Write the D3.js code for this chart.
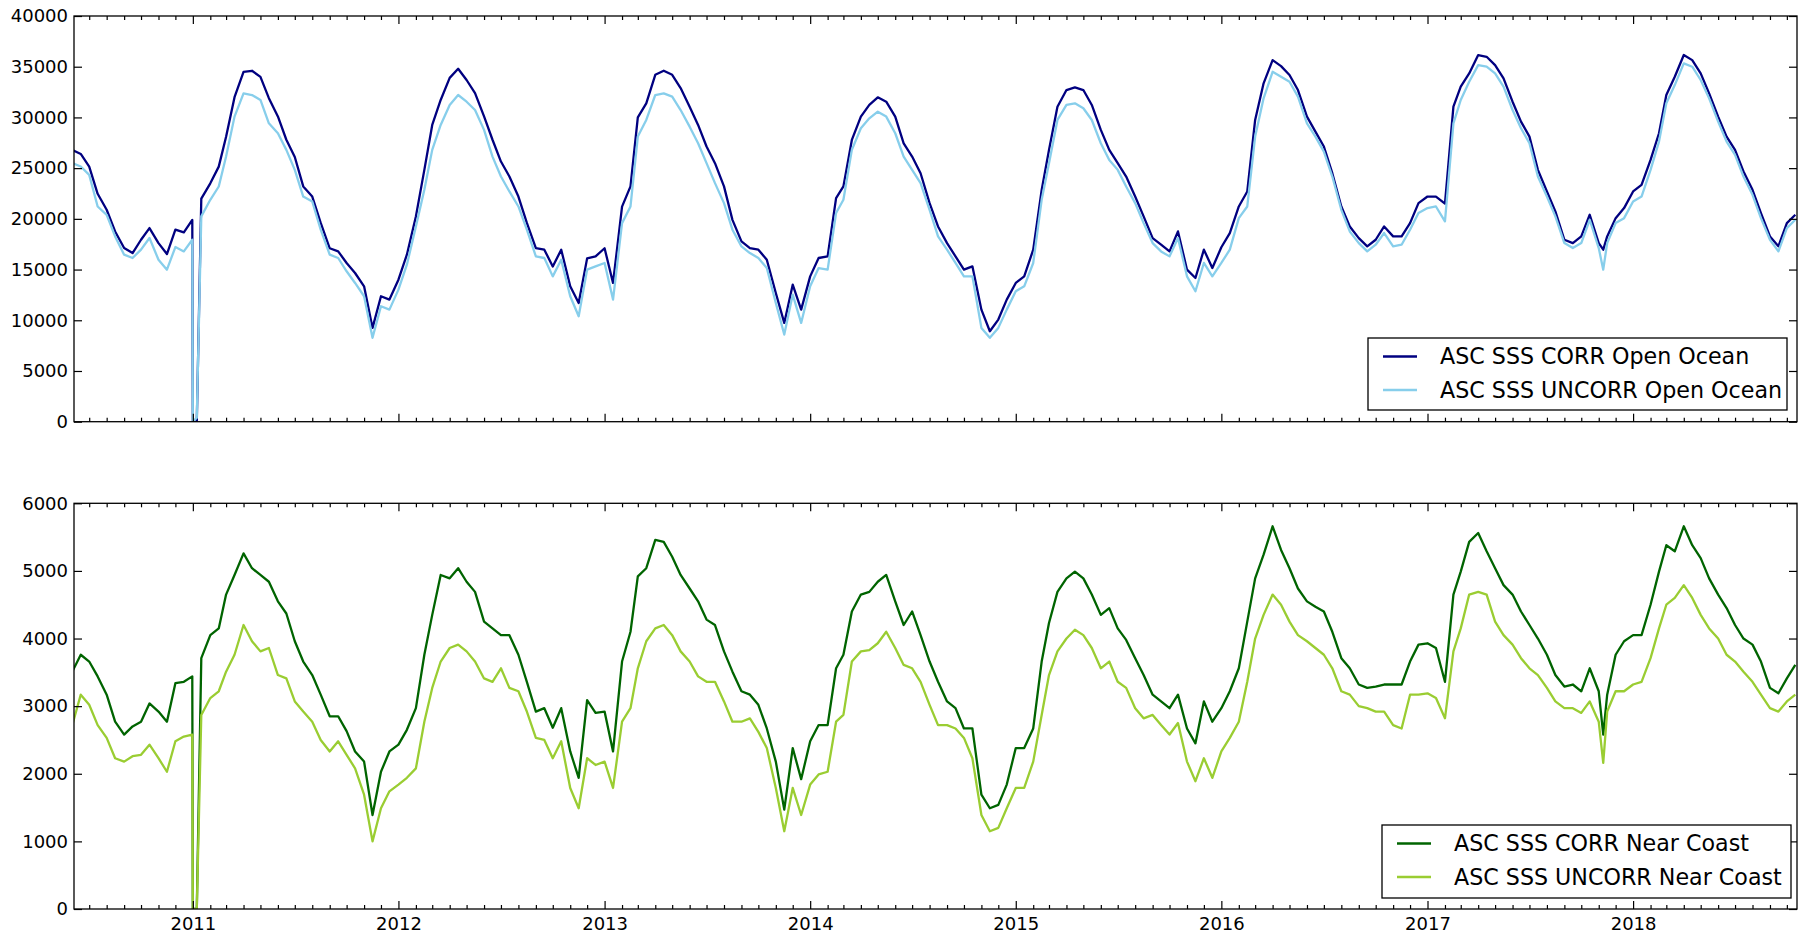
<!DOCTYPE html>
<meta charset='utf-8'>
<style>
    body {
        margin: 0;
        background: #fff;
    }
    svg {
        display: block;
    }
    text {
        font-family: 'DejaVu Sans', Verdana, sans-serif;
        fill: #000;
    }
    .axis path.domain {
        display: none;
    }
    .axis line {
        stroke: #000;
        stroke-width: 1.2px;
    }
</style>
<body>
<div id='container'></div>
<script src='https://d3js.org/d3.v7.min.js'></script>
<script>
    // sample dates: 1st and 16th of every month, Jun 2010 .. Oct 2018
    const sampleMonths = d3.timeMonth.range( new Date( 2010, 5, 1 ), new Date( 2018, 10, 1 ) );
    const dates = sampleMonths.flatMap( m => [ m, d3.timeDay.offset( m, 15 ) ] );

    // a few extra samples around the Jan 2011 outage and the Nov 2017 spike
    const extraDates = [ '2010-12-31', '2011-01-08', '2017-11-09' ];

    const oceanCorr = [
        26800, 26400, 25150, 22470, 20900, 18760, 17120, 16630, 17940, 19090, 17610, 16530, 18930, 18660, // 2010
        0, 22000, 23500, 25150, 28100, 32000, 34500, 34600, 34000, 31900, 30100, 27800, 26100, 23200, 22200, 19600, 17100, 16800, 15650, 14660, 13350, 9250, 12370, 12040, // 2011
        14000, 16470, 20240, 24830, 29260, 31720, 33900, 34800, 33690, 32400, 30100, 27800, 25650, 24170, 22200, 19600, 17120, 16960, 15300, 16960, 13350, 11700, 16100, 16300, // 2012
        17100, 13680, 21200, 23200, 30000, 31390, 34200, 34600, 34200, 32900, 31060, 29260, 27130, 25490, 23200, 19900, 17780, 17120, 16960, 15970, 12690, 9740, 13510, 11050, // 2013
        14330, 16140, 16300, 22040, 23200, 27780, 30080, 31230, 31980, 31550, 30080, 27450, 26140, 24500, 21550, 19250, 17610, 16300, 14990, 15320, 11050, 8920, 10070, 12040, // 2014
        13680, 14330, 16960, 22860, 26800, 31060, 32700, 32960, 32700, 31230, 28770, 26800, 25490, 24170, 22200, 20240, 18100, 17450, 16790, 18760, 14990, 14170, 16960, 15150, // 2015
        17200, 18600, 21220, 22700, 29750, 33360, 35650, 35060, 34180, 32700, 30080, 28600, 27130, 24500, 21220, 19250, 18100, 17290, 17940, 19250, 18270, 18270, 19580, 21550, // 2016
        22200, 22200, 21500, 31060, 33030, 34340, 36150, 35980, 35160, 33850, 31550, 29590, 28110, 24830, 22700, 20730, 17940, 17610, 18270, 20400, 17610, 18270, 20070, 21060, // 2017
        22700, 23350, 25810, 28440, 32210, 34010, 36150, 35650, 34340, 32370, 30080, 28110, 26800, 24670, 22860, 20570, 18270, 17290, 19580, 20400 // 2018
    ];
    const oceanUncorr = [
        25490, 25160, 24340, 21220, 20400, 18270, 16470, 16140, 16960, 18110, 15970, 14990, 17220, 16790,
        0, 20240, 21880, 23190, 26140, 30080, 32370, 32210, 31720, 29420, 28440, 26800, 24830, 22200, 21710, 18930, 16470, 16140, 14830, 13680, 12370, 8270, 11380, 11050,
        13020, 15480, 19250, 22860, 26800, 29260, 31230, 32210, 31550, 30730, 28770, 26140, 24170, 22700, 21220, 18930, 16300, 16140, 14330, 15970, 12370, 10400, 14990, 15320,
        15650, 12040, 19580, 21220, 28110, 29750, 32210, 32370, 32050, 30730, 29090, 27450, 25490, 23520, 21550, 18930, 17290, 16630, 16140, 15150, 11710, 8590, 12530, 9740,
        13350, 15150, 14990, 20570, 21880, 26800, 28930, 29910, 30570, 30080, 28440, 26140, 24830, 23520, 20890, 18270, 16960, 15650, 14330, 14330, 9250, 8270, 9250, 11050,
        12860, 13350, 15650, 21880, 25490, 29750, 31230, 31390, 30900, 29750, 27450, 25810, 24830, 23190, 21550, 19580, 17610, 16790, 16300, 18110, 14330, 12860, 15650, 14330,
        15650, 16960, 20070, 21220, 28110, 31880, 34500, 34010, 33520, 32050, 29420, 28110, 26630, 24170, 20890, 18760, 17610, 16790, 17450, 18600, 17290, 17450, 18930, 20570,
        21060, 21220, 19750, 29420, 31720, 33520, 35160, 35000, 34340, 33030, 30730, 28930, 27450, 24170, 22200, 20240, 17610, 17120, 17610, 19910, 17120, 17610, 19580, 20070,
        21710, 22200, 24830, 27620, 31390, 33190, 35330, 35000, 33690, 31880, 29590, 27620, 26310, 24170, 22370, 20070, 17940, 16790, 19090, 19910
    ];
    const coastCorr = [
        3510, 3760, 3660, 3440, 3170, 2770, 2580, 2700, 2770, 3040, 2920, 2770, 3340, 3360,
        0, 3710, 4050, 4150, 4650, 4940, 5260, 5040, 4940, 4840, 4550, 4370, 3960, 3660, 3460, 3170, 2850, 2850, 2630, 2330, 2180, 1390, 2030, 2330,
        2430, 2650, 2970, 3760, 4350, 4940, 4890, 5040, 4840, 4690, 4250, 4150, 4050, 4050, 3760, 3360, 2920, 2970, 2680, 2970, 2330, 1940, 3090, 2900,
        2920, 2330, 3660, 4100, 4920, 5040, 5460, 5430, 5210, 4940, 4740, 4550, 4280, 4200, 3810, 3510, 3220, 3170, 3020, 2670, 2180, 1470, 2380, 1920,
        2480, 2720, 2720, 3560, 3760, 4400, 4650, 4690, 4840, 4940, 4550, 4200, 4400, 4050, 3660, 3360, 3070, 2970, 2670, 2670, 1690, 1490, 1540, 1840,
        2380, 2380, 2670, 3660, 4230, 4690, 4890, 4990, 4890, 4650, 4350, 4450, 4150, 3980, 3710, 3460, 3170, 3070, 2970, 3170, 2670, 2450, 3070, 2770,
        2970, 3220, 3560, 4250, 4890, 5240, 5660, 5310, 5040, 4740, 4550, 4470, 4400, 4100, 3710, 3560, 3320, 3270, 3290, 3320, 3320, 3320, 3660, 3910,
        3930, 3860, 3360, 4650, 4990, 5430, 5560, 5290, 5040, 4790, 4650, 4400, 4200, 4000, 3760, 3460, 3290, 3320, 3220, 3560, 3220, 3170, 3760, 3960,
        4050, 4050, 4500, 4990, 5380, 5290, 5660, 5380, 5190, 4890, 4650, 4450, 4200, 4000, 3910, 3660, 3270, 3190, 3410, 3610
    ];
    const coastUncorr = [
        2720, 3170, 3020, 2720, 2530, 2230, 2180, 2260, 2280, 2430, 2230, 2030, 2480, 2550,
        0, 2870, 3120, 3220, 3510, 3760, 4200, 3960, 3810, 3860, 3460, 3410, 3070, 2920, 2770, 2500, 2330, 2480, 2280, 2080, 1690, 1000, 1490, 1740,
        1840, 1940, 2080, 2770, 3270, 3660, 3860, 3910, 3810, 3660, 3410, 3360, 3560, 3270, 3220, 2920, 2530, 2500, 2230, 2480, 1790, 1490, 2230, 2130,
        2180, 1790, 2770, 2970, 3560, 3960, 4150, 4200, 4050, 3810, 3660, 3440, 3360, 3360, 3070, 2770, 2770, 2820, 2620, 2380, 1790, 1150, 1790, 1390,
        1840, 1990, 2030, 2770, 2870, 3660, 3810, 3830, 3930, 4100, 3860, 3610, 3560, 3360, 3020, 2720, 2720, 2670, 2530, 2230, 1390, 1150, 1200, 1490,
        1790, 1790, 2180, 2870, 3460, 3810, 4000, 4130, 4050, 3860, 3560, 3660, 3360, 3270, 2970, 2820, 2870, 2720, 2580, 2750, 2180, 1890, 2230, 1940,
        2330, 2530, 2770, 3360, 4000, 4350, 4650, 4500, 4250, 4050, 3960, 3860, 3760, 3560, 3220, 3170, 3000, 2970, 2920, 2920, 2720, 2670, 3170, 3170,
        3190, 3120, 2820, 3810, 4150, 4650, 4690, 4650, 4250, 4050, 3910, 3710, 3560, 3460, 3270, 3070, 2970, 2970, 2900, 3070, 2770, 2920, 3220, 3220,
        3320, 3360, 3710, 4150, 4500, 4600, 4790, 4600, 4350, 4150, 4000, 3760, 3660, 3510, 3360, 3170, 2970, 2920, 3070, 3170
    ];

    const extraOceanCorr = [ 19900, 0, 16960 ];
    const extraOceanUncorr = [ 17940, 400, 14990 ];
    const extraCoastCorr = [ 3440, 0, 2580 ];
    const extraCoastUncorr = [ 2580, 0, 2160 ];

    const oceanTicks = d3.range( 0, 40001, 5000 );
    const coastTicks = d3.range( 0, 6001, 1000 );

    const W = 1798, H = 937;
    const left = 74, right = 1797;

    const parseDate = d3.timeParse( '%Y-%m-%d' );
    const extra = extraDates.map( parseDate );

    const toPoints = ( values, extraValues ) => {
        let pts = dates.map( ( d, i ) => ( { date: d, value: values[ i ] } ) )
            .concat( extra.map( ( d, i ) => ( { date: d, value: extraValues[ i ] } ) ) );
        return pts.sort( ( a, b ) => a.date - b.date );
    };

    const xScale = d3.scaleTime()
        .domain( [ new Date( 2010, 5, 4 ), new Date( 2018, 9, 19 ) ] )
        .range( [ left, right ] );

    const yearTicks = d3.timeYear.range( xScale.domain()[0], xScale.domain()[1] ).filter( d => d > xScale.domain()[0] );
    const monthTicks = d3.timeMonth.range( xScale.domain()[0], xScale.domain()[1] )
        .filter( d => d.getMonth() !== 0 );

    const panels = [
        {
            top: 16, bottom: 421.7, max: 40000, ticks: oceanTicks, showDates: false,
            series: [
                { name: 'ASC SSS CORR Open Ocean', color: '#000080', points: toPoints( oceanCorr, extraOceanCorr ) },
                { name: 'ASC SSS UNCORR Open Ocean', color: '#87ceeb', points: toPoints( oceanUncorr, extraOceanUncorr ) },
            ],
            legend: { x: 1368, y: 338, w: 419, h: 72 },
        },
        {
            top: 503.3, bottom: 909, max: 6000, ticks: coastTicks, showDates: true,
            series: [
                { name: 'ASC SSS CORR Near Coast', color: '#006400', points: toPoints( coastCorr, extraCoastCorr ) },
                { name: 'ASC SSS UNCORR Near Coast', color: '#9acd32', points: toPoints( coastUncorr, extraCoastUncorr ) },
            ],
            legend: { x: 1382, y: 825, w: 409, h: 73 },
        },
    ];

    const svg = d3.select( '#container' )
        .append( 'svg' )
        .attr( 'width', W )
        .attr( 'height', H )
        .attr( 'viewBox', `0 0 ${W} ${H}` );

    panels.forEach( ( p, k ) => {
        const yScale = d3.scaleLinear()
            .domain( [ 0, p.max ] )
            .range( [ p.bottom, p.top ] );

        const g = svg.append( 'g' ).attr( 'class', 'panel' );

        g.append( 'clipPath' )
            .attr( 'id', 'clip' + k )
            .append( 'rect' )
                .attr( 'x', left )
                .attr( 'y', p.top - 2 )
                .attr( 'width', right - left )
                .attr( 'height', p.bottom - p.top + 2 );

        // lines
        const line = d3.line()
            .x( d => xScale( d.date ) )
            .y( d => yScale( d.value ) );

        g.append( 'g' )
            .attr( 'clip-path', `url(#clip${k})` )
            .selectAll( 'path' )
            .data( p.series )
            .enter().append( 'path' )
                .attr( 'd', d => line( d.points ) )
                .attr( 'fill', 'none' )
                .attr( 'stroke', d => d.color )
                .attr( 'stroke-width', 2.3 )
                .attr( 'stroke-linejoin', 'round' );

        // ticks on all four sides, pointing inward
        g.append( 'g' )
            .attr( 'class', 'axis' )
            .attr( 'transform', `translate( 0, ${p.bottom} )` )
            .call( d3.axisBottom( xScale ).tickValues( monthTicks ).tickSize( -4 ).tickFormat( '' ) );
        g.append( 'g' )
            .attr( 'class', 'axis' )
            .attr( 'transform', `translate( 0, ${p.top} )` )
            .call( d3.axisTop( xScale ).tickValues( monthTicks ).tickSize( -4 ).tickFormat( '' ) );
        g.append( 'g' )
            .attr( 'class', 'axis' )
            .attr( 'transform', `translate( 0, ${p.top} )` )
            .call( d3.axisTop( xScale ).tickValues( yearTicks ).tickSize( -8 ).tickFormat( '' ) );

        const xAxis = g.append( 'g' )
            .attr( 'class', 'axis' )
            .attr( 'transform', `translate( 0, ${p.bottom} )` )
            .call( d3.axisBottom( xScale )
                .tickValues( yearTicks )
                .tickSize( -8 )
                .tickPadding( 8 )
                .tickFormat( p.showDates ? d3.timeFormat( '%Y' ) : '' ) );
        xAxis.selectAll( 'text' )
            .style( 'font-size', '18px' );

        const yAxis = g.append( 'g' )
            .attr( 'class', 'axis' )
            .attr( 'transform', `translate( ${left}, 0 )` )
            .call( d3.axisLeft( yScale ).tickValues( p.ticks ).tickSize( -8 ).tickPadding( 6 ).tickFormat( d3.format( 'd' ) ) );
        yAxis.selectAll( 'text' )
            .style( 'font-size', '18px' );

        g.append( 'g' )
            .attr( 'class', 'axis' )
            .attr( 'transform', `translate( ${right}, 0 )` )
            .call( d3.axisRight( yScale ).tickValues( p.ticks ).tickSize( -8 ).tickFormat( '' ) );

        // frame
        g.append( 'rect' )
            .attr( 'x', left )
            .attr( 'y', p.top )
            .attr( 'width', right - left )
            .attr( 'height', p.bottom - p.top )
            .attr( 'fill', 'none' )
            .attr( 'stroke', '#000' )
            .attr( 'stroke-width', 1.3 );

        // legend
        const lg = g.append( 'g' )
            .attr( 'class', 'legend' )
            .attr( 'transform', `translate( ${p.legend.x}, ${p.legend.y} )` );

        lg.append( 'rect' )
            .attr( 'width', p.legend.w )
            .attr( 'height', p.legend.h )
            .attr( 'fill', '#fff' )
            .attr( 'stroke', '#000' )
            .attr( 'stroke-width', 1.3 );

        const rows = lg.selectAll( '.row' )
            .data( p.series )
            .enter().append( 'g' )
                .attr( 'class', 'row' )
                .attr( 'transform', ( d, i ) => `translate( 0, ${18.5 + i * 33.5} )` );

        rows.append( 'line' )
            .attr( 'x1', 15 )
            .attr( 'x2', 49 )
            .attr( 'stroke', d => d.color )
            .attr( 'stroke-width', 2.3 );

        rows.append( 'text' )
            .attr( 'x', 72 )
            .attr( 'dy', '0.35em' )
            .style( 'font-size', '22.2px' )
            .text( d => d.name );
    } );
</script>
</body>
